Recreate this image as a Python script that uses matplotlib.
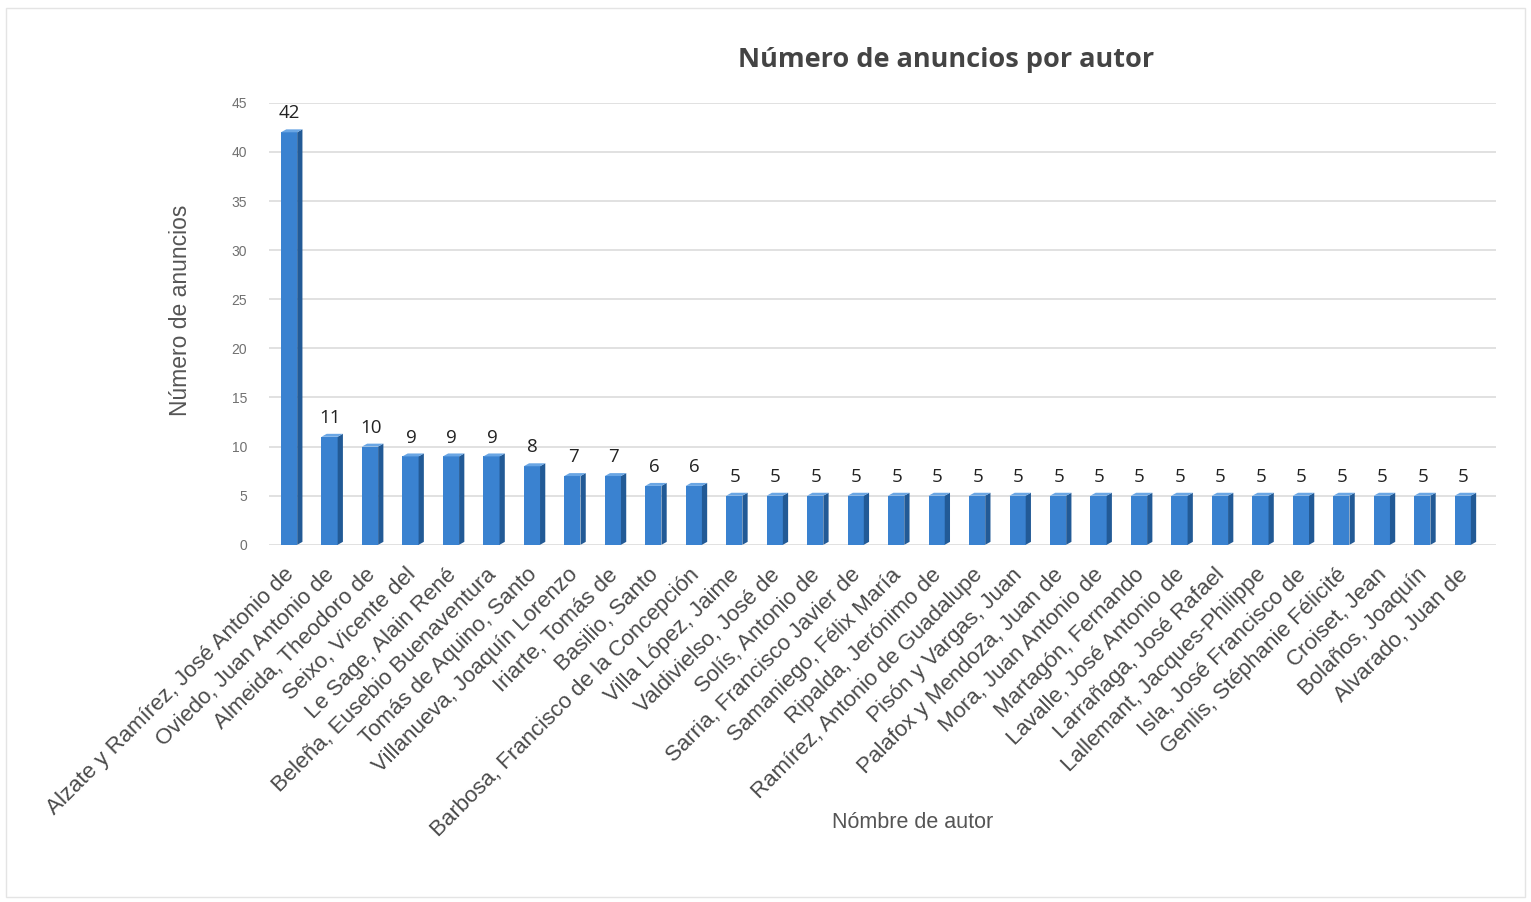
import numpy as np
import matplotlib
matplotlib.use("Agg")
import matplotlib.pyplot as plt
import matplotlib.patches as mpatches
import matplotlib.transforms as mtransforms

# ------------------------------------------------------------
# Número de anuncios por autor (Excel-style 3D column chart)
# ------------------------------------------------------------

AUTHORS = [
    "Alzate y Ramírez, José Antonio de",
    "Oviedo, Juan Antonio de",
    "Almeida, Theodoro de",
    "Seixo, Vicente del",
    "Le Sage, Alain René",
    "Beleña, Eusebio Buenaventura",
    "Tomás de Aquino, Santo",
    "Villanueva, Joaquín Lorenzo",
    "Iriarte, Tomás de",
    "Basilio, Santo",
    "Barbosa, Francisco de la Concepción",
    "Villa López, Jaime",
    "Valdivielso, José de",
    "Solís, Antonio de",
    "Sarria, Francisco Javier de",
    "Samaniego, Félix María",
    "Ripalda, Jerónimo de",
    "Ramírez, Antonio de Guadalupe",
    "Pisón y Vargas, Juan",
    "Palafox y Mendoza, Juan de",
    "Mora, Juan Antonio de",
    "Martagón, Fernando",
    "Lavalle, José Antonio de",
    "Larrañaga, José Rafael",
    "Lallemant, Jacques-Philippe",
    "Isla, José Francisco de",
    "Genlis, Stéphanie Félicité",
    "Croiset, Jean",
    "Bolaños, Joaquín",
    "Alvarado, Juan de",
]
COUNTS = [42, 11, 10, 9, 9, 9, 8, 7, 7, 6, 6,
          5, 5, 5, 5, 5, 5, 5, 5, 5, 5, 5, 5, 5, 5, 5, 5, 5, 5, 5]
Y_TICKS = [0, 5, 10, 15, 20, 25, 30, 35, 40, 45]

FRONT = "#3a82d0"
SIDE = "#225a96"
TOP = "#6aa6e4"

fig = plt.figure(figsize=(15.31, 9.02), dpi=100, facecolor="white")
ax = fig.add_axes([0.176, 0.396, 0.801, 0.49])

# faint outer chart border
fig.add_artist(mpatches.Rectangle((0.004, 0.006), 0.992, 0.985,
                                  transform=fig.transFigure, fill=False,
                                  edgecolor="#e4e4e4", linewidth=1.0))

x = np.arange(len(COUNTS))
front_w = 0.40
side_w = 0.13
depth = 0.3

ax.bar(x - side_w / 2, COUNTS, width=front_w, color=FRONT, zorder=3,
       linewidth=0)
for xi, v in zip(x, COUNTS):
    left = xi - side_w / 2 - front_w / 2
    right = left + front_w
    side = mpatches.Polygon([(right, 0), (right + side_w, depth),
                             (right + side_w, v + depth), (right, v)],
                            closed=True, facecolor=SIDE, edgecolor="none",
                            zorder=3)
    top = mpatches.Polygon([(left, v), (right, v),
                            (right + side_w, v + depth),
                            (left + side_w, v + depth)],
                           closed=True, facecolor=TOP, edgecolor="none",
                           zorder=3)
    ax.add_patch(side)
    ax.add_patch(top)
    ax.text(xi - 0.05, v + 1.0, str(v), ha="center", va="bottom",
            fontsize=13.5, family="Open Sans", color="#222222")

ax.set_xlim(-0.55, len(COUNTS) - 0.25)
ax.set_ylim(0, 45)
ax.set_yticks(Y_TICKS)
ax.set_yticklabels([str(t) for t in Y_TICKS], fontsize=10,
                   family="Liberation Sans", color="#707070")
ax.tick_params(axis="y", length=0, pad=16)
ax.tick_params(axis="x", length=0, pad=14)
ax.grid(axis="y", color="#dcdcdc", linewidth=1.2, zorder=0)
for s in ax.spines.values():
    s.set_visible(False)

ax.set_xticks(x)
ax.set_xticklabels(AUTHORS, rotation=45, ha="right", rotation_mode="anchor",
                   fontsize=16, family="Liberation Sans", color="#4a4a4a")
# nudge rotated labels slightly left, like the original
shift = mtransforms.ScaledTranslation(-8 / 100, 0, fig.dpi_scale_trans)
for lbl in ax.get_xticklabels():
    lbl.set_transform(lbl.get_transform() + shift)

ax.set_ylabel("Número de anuncios", fontsize=16.5, family="Liberation Sans",
              color="#555555")
ax.yaxis.set_label_coords(-0.063, 0.53)

fig.text(0.618, 0.933, "Número de anuncios por autor", ha="center",
         va="center", fontsize=19.5, fontweight="bold", family="Open Sans",
         color="#444444")
fig.text(0.596, 0.088, "Nómbre de autor", ha="center", va="center",
         fontsize=15.5, family="Liberation Sans", color="#555555")

fig.savefig("out.png", dpi=100, facecolor="white")
plt.close(fig)
